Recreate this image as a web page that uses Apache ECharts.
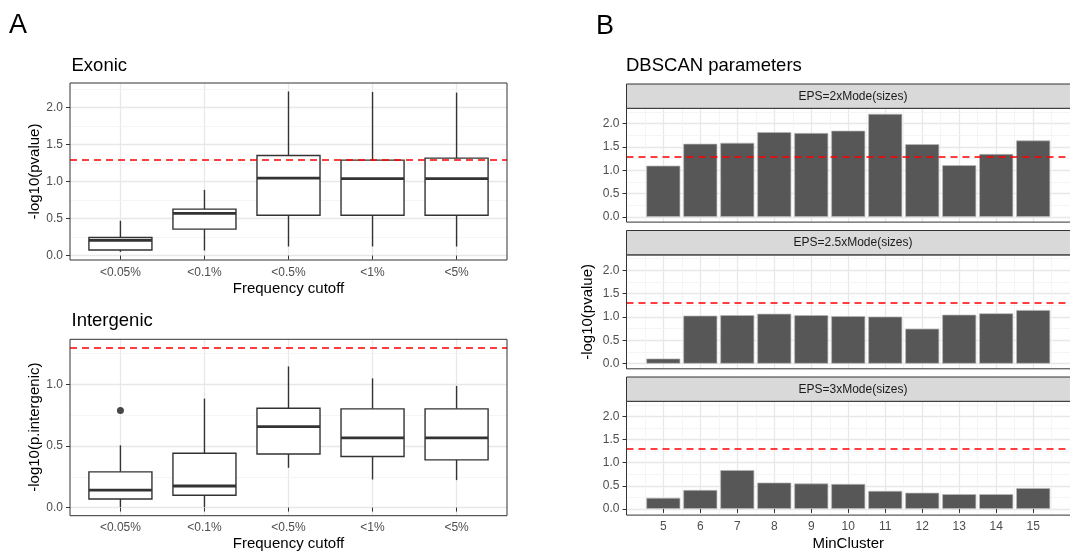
<!DOCTYPE html>
<html>
<head>
<meta charset="utf-8">
<script src="https://cdn.jsdelivr.net/npm/echarts@6/dist/echarts.min.js"></script>
<style>
  html, body { margin: 0; padding: 0; background: #fff; }
  #chart { width: 1070px; height: 552px; }
</style>
</head>
<body>
<div id="chart"></div>
<script>
const freqCutoffs = ['<0.05%', '<0.1%', '<0.5%', '<1%', '<5%'];
// box stats per cutoff: [lower whisker, Q1, median, Q3, upper whisker]
const exonicBoxes = [
  [0.05, 0.075, 0.205, 0.243, 0.47],
  [0.068, 0.357, 0.57, 0.627, 0.887],
  [0.122, 0.545, 1.045, 1.351, 2.216],
  [0.122, 0.545, 1.04, 1.288, 2.21],
  [0.122, 0.545, 1.04, 1.315, 2.2]
];
const intergenicBoxes = [
  [0.005, 0.07, 0.142, 0.29, 0.505],
  [0.005, 0.10, 0.175, 0.441, 0.884],
  [0.323, 0.435, 0.656, 0.806, 1.145],
  [0.228, 0.414, 0.565, 0.801, 1.048],
  [0.223, 0.387, 0.565, 0.801, 0.987]
];
const intergenicOutliers = [[0, 0.788]]; // cutoff index, value

const minCluster = [5, 6, 7, 8, 9, 10, 11, 12, 13, 14, 15];
const eps2x = [1.10, 1.57, 1.59, 1.82, 1.80, 1.85, 2.21, 1.56, 1.11, 1.35, 1.64];
const eps25x = [0.11, 1.03, 1.04, 1.07, 1.04, 1.02, 1.01, 0.75, 1.05, 1.08, 1.15];
const eps3x = [0.24, 0.41, 0.84, 0.57, 0.55, 0.54, 0.39, 0.35, 0.32, 0.32, 0.45];
const stripLabels = ['EPS=2xMode(sizes)', 'EPS=2.5xMode(sizes)', 'EPS=3xMode(sizes)'];

const yTicks = [0, 0.5, 1, 1.5, 2];
const yMinor = [0.25, 0.75, 1.25, 1.75, 2.25];
const yTicksInter = [0, 0.5, 1];
const yMinorInter = [0.25, 0.75, 1.25];
const xMinorCluster = [4.5, 5.5, 6.5, 7.5, 8.5, 9.5, 10.5, 11.5, 12.5, 13.5, 14.5, 15.5];
const cutoff = 1.301; // -log10(0.05)

const FONT = 'Liberation Sans, Arial, Helvetica, sans-serif';
const tickCol = '#4d4d4d';

function makeAxis(gridIndex, min, max, ticks, fmt, showLabels) {
  return {
    type: 'value', gridIndex, min, max,
    axisLine: { show: false },
    axisTick: { show: showLabels, length: 4, customValues: ticks, lineStyle: { color: '#333' } },
    axisLabel: { show: showLabels, customValues: ticks, formatter: fmt, margin: 7, color: tickCol, fontSize: 12, fontFamily: FONT },
    splitLine: { show: true, lineStyle: { color: '#e8e8e8', width: 1.3 } }
  };
}
const fmt1 = v => v.toFixed(1);
const fmtCut = v => freqCutoffs[Math.round(v) - 1];
const axisName = { fontSize: 15, color: '#000', fontFamily: FONT };

function renderBox(params, api) {
  const x = api.value(0);
  const lo = api.coord([x, api.value(1)]);
  const q1 = api.coord([x, api.value(2)]);
  const med = api.coord([x, api.value(3)]);
  const q3 = api.coord([x, api.value(4)]);
  const hi = api.coord([x, api.value(5)]);
  const half = api.size([0.75, 0])[0] / 2;
  const st = { stroke: '#333', lineWidth: 1.4 };
  return {
    type: 'group',
    children: [
      { type: 'line', shape: { x1: lo[0], y1: lo[1], x2: q1[0], y2: q1[1] }, style: st },
      { type: 'line', shape: { x1: q3[0], y1: q3[1], x2: hi[0], y2: hi[1] }, style: st },
      { type: 'rect', shape: { x: q1[0] - half, y: q3[1], width: half * 2, height: q1[1] - q3[1] }, style: { fill: '#fff', stroke: '#333', lineWidth: 1.4 } },
      { type: 'line', shape: { x1: med[0] - half, y1: med[1], x2: med[0] + half, y2: med[1] }, style: { stroke: '#333', lineWidth: 2.8 } }
    ]
  };
}

const cutLine = {
  silent: true, symbol: 'none', animation: false,
  label: { show: false },
  lineStyle: { color: '#ff0000', type: [7, 5], width: 1.5 },
  data: [{ yAxis: cutoff }]
};

// minor grid lines, drawn as markLines under the marks
function minorGrid(idx, yVals, xVals) {
  return {
    type: 'line', xAxisIndex: idx, yAxisIndex: idx, data: [],
    markLine: {
      silent: true, symbol: 'none', animation: false, z: 1,
      label: { show: false },
      lineStyle: { color: '#f3f3f3', type: 'solid', width: 0.8 },
      data: yVals.map(v => ({ yAxis: v })).concat(xVals.map(v => ({ xAxis: v })))
    }
  };
}

function boxSeries(idx, boxes) {
  return {
    type: 'custom', xAxisIndex: idx, yAxisIndex: idx,
    renderItem: renderBox,
    encode: { x: 0, y: [1, 2, 3, 4, 5] },
    data: boxes.map((b, i) => [i + 1].concat(b)),
    markLine: cutLine,
    z: 3
  };
}
function barSeries(idx, values) {
  return {
    type: 'bar', xAxisIndex: idx, yAxisIndex: idx,
    barWidth: 34,
    itemStyle: { color: '#575757', borderColor: '#b8b8b8', borderWidth: 0.7 },
    data: minCluster.map((m, i) => [m, values[i]]),
    markLine: cutLine
  };
}

const panels = [
  { left: 70, top: 83, width: 437, height: 177 },
  { left: 70, top: 339.3, width: 437, height: 176.4 },
  { left: 626.5, top: 108.3, width: 453, height: 113.8 },
  { left: 626.5, top: 255, width: 453, height: 113.8 },
  { left: 626.5, top: 401.3, width: 453, height: 113.8 }
];
const stripTops = [84, 230.5, 377];
const titleStyle = { fontSize: 18.5, fill: '#000', fontFamily: FONT };

const option = {
  animation: false,
  textStyle: { fontFamily: FONT },
  grid: panels.map(p => Object.assign({ show: false }, p)),
  xAxis: [
    Object.assign(makeAxis(0, 0.4, 5.6, [1, 2, 3, 4, 5], fmtCut, true),
      { name: 'Frequency cutoff', nameLocation: 'middle', nameGap: 21, nameTextStyle: axisName }),
    Object.assign(makeAxis(1, 0.4, 5.6, [1, 2, 3, 4, 5], fmtCut, true),
      { name: 'Frequency cutoff', nameLocation: 'middle', nameGap: 21, nameTextStyle: axisName }),
    makeAxis(2, 4.005, 15.995, minCluster, v => String(v), false),
    makeAxis(3, 4.005, 15.995, minCluster, v => String(v), false),
    Object.assign(makeAxis(4, 4.005, 15.995, minCluster, v => String(v), true),
      { name: 'MinCluster', nameLocation: 'middle', nameGap: 22, nameTextStyle: axisName })
  ],
  yAxis: [
    Object.assign(makeAxis(0, -0.06, 2.33, yTicks, fmt1, true),
      { name: '-log10(pvalue)', nameLocation: 'middle', nameGap: 27, nameTextStyle: axisName }),
    Object.assign(makeAxis(1, -0.06, 1.365, yTicksInter, fmt1, true),
      { name: '-log10(p.intergenic)', nameLocation: 'middle', nameGap: 27, nameTextStyle: axisName }),
    makeAxis(2, -0.11, 2.33, yTicks, fmt1, true),
    Object.assign(makeAxis(3, -0.11, 2.33, yTicks, fmt1, true),
      { name: '-log10(pvalue)', nameLocation: 'middle', nameGap: 31, nameTextStyle: axisName }),
    makeAxis(4, -0.11, 2.33, yTicks, fmt1, true)
  ],
  series: [
    minorGrid(0, yMinor, []),
    minorGrid(1, yMinorInter, []),
    minorGrid(2, yMinor, xMinorCluster),
    minorGrid(3, yMinor, xMinorCluster),
    minorGrid(4, yMinor, xMinorCluster),
    boxSeries(0, exonicBoxes),
    boxSeries(1, intergenicBoxes),
    {
      type: 'scatter', xAxisIndex: 1, yAxisIndex: 1,
      symbolSize: 7, itemStyle: { color: '#1a1a1a' },
      data: intergenicOutliers.map(o => [o[0] + 1, o[1]]),
      z: 4
    },
    barSeries(2, eps2x),
    barSeries(3, eps25x),
    barSeries(4, eps3x)
  ],
  graphic: [
    { type: 'text', left: 9, top: 12, style: { text: 'A', fontSize: 27, fill: '#000', fontFamily: FONT } },
    { type: 'text', left: 596, top: 13, style: { text: 'B', fontSize: 27, fill: '#000', fontFamily: FONT } },
    { type: 'text', left: 71.5, top: 56.5, style: Object.assign({ text: 'Exonic' }, titleStyle) },
    { type: 'text', left: 71.5, top: 311.5, style: Object.assign({ text: 'Intergenic' }, titleStyle) },
    { type: 'text', left: 626, top: 56.5, style: Object.assign({ text: 'DBSCAN parameters' }, titleStyle) },
    // panel frames, on top of grid lines
    ...panels.map(p => ({
      type: 'rect', z: 50, silent: true,
      shape: { x: p.left, y: p.top, width: p.width, height: p.height },
      style: { fill: 'none', stroke: '#333', lineWidth: 1 }
    })),
    ...stripTops.map((y, i) => ({
      type: 'group', z: 50,
      children: [
        { type: 'rect', z: 50, shape: { x: 626.5, y: y, width: 460, height: 24.3 }, style: { fill: '#d9d9d9', stroke: '#333', lineWidth: 1 } },
        { type: 'text', z: 51, x: 853, y: y + 12.5, style: { text: stripLabels[i], fontSize: 12, fill: '#1a1a1a', fontFamily: FONT, align: 'center', verticalAlign: 'middle' } }
      ]
    }))
  ]
};

const chart = echarts.init(document.getElementById('chart'));
chart.setOption(option);
</script>
</body>
</html>
